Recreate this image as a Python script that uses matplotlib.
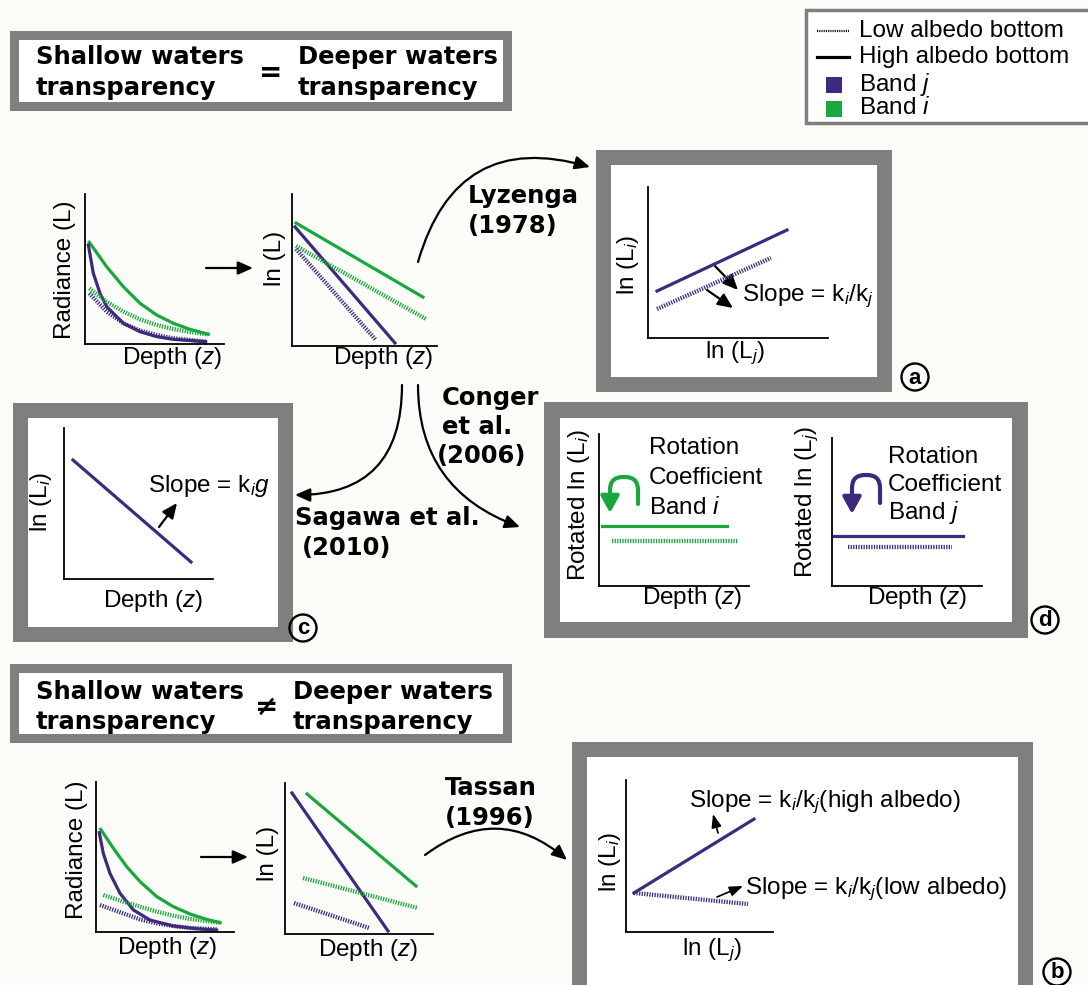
import matplotlib
matplotlib.use("Agg")
import matplotlib.pyplot as plt
from matplotlib.patches import Rectangle, FancyArrowPatch, Circle

plt.rcParams['font.family'] = ['Liberation Sans', 'DejaVu Sans']
plt.rcParams['mathtext.fontset'] = 'custom'
plt.rcParams['mathtext.rm'] = 'Liberation Sans'
plt.rcParams['mathtext.it'] = 'Liberation Sans:italic'
plt.rcParams['mathtext.bf'] = 'Liberation Sans:bold'

PURPLE = '#3d2a7f'
GREEN = '#18a83e'
GRAY = '#7f7f7f'
BG = '#fbfcf7'
W, H = 1088, 985

# ---- data (relative units) ----
# same transparency: radiance vs depth
same_rad_depth_gh = [0.031, 0.156, 0.276, 0.396, 0.516, 0.636, 0.755, 0.887]
same_rad_gh = [0.678, 0.515, 0.382, 0.271, 0.193, 0.138, 0.098, 0.065]
same_rad_depth_jh = [0.024, 0.06, 0.108, 0.156, 0.276, 0.396, 0.516, 0.636, 0.868]
same_rad_jh = [0.66, 0.471, 0.338, 0.249, 0.138, 0.082, 0.049, 0.031, 0.016]
same_rad_depth_gl = [0.031, 0.156, 0.276, 0.396, 0.516, 0.636, 0.755, 0.887]
same_rad_gl = [0.371, 0.282, 0.216, 0.164, 0.127, 0.1, 0.08, 0.064]
same_rad_depth_jl = [0.031, 0.156, 0.276, 0.396, 0.516, 0.636, 0.868]
same_rad_jl = [0.338, 0.216, 0.138, 0.089, 0.06, 0.038, 0.016]

# same transparency: ln(L) vs depth
same_ln_depth_gh, same_ln_gh = [0.028, 0.903], [0.809, 0.322]
same_ln_depth_jh, same_ln_jh = [0.021, 0.71], [0.783, 0.02]
same_ln_depth_gl, same_ln_gl = [0.028, 0.924], [0.658, 0.178]
same_ln_depth_jl, same_ln_jl = [0.028, 0.579], [0.638, 0.039]

# (a) Lyzenga
a_lnLj_high, a_lnLi_high = [0.05, 0.772], [0.311, 0.715]
a_lnLj_low, a_lnLi_low = [0.05, 0.683], [0.192, 0.53]

# (c) Sagawa
c_depth, c_lnL = [0.06, 0.852], [0.788, 0.113]

# (d) Conger
d_i_depth_high, d_i_high = [0.02, 0.853], [0.395, 0.395]
d_i_depth_low, d_i_low = [0.087, 0.927], [0.296, 0.296]
d_j_depth_high, d_j_high = [0.013, 0.873], [0.338, 0.338]
d_j_depth_low, d_j_low = [0.107, 0.8], [0.264, 0.264]

# different transparency: radiance vs depth
diff_rad_depth_gh = [0.034, 0.126, 0.222, 0.319, 0.44, 0.56, 0.681, 0.802, 0.899]
diff_rad_gh = [0.684, 0.558, 0.436, 0.336, 0.236, 0.169, 0.12, 0.084, 0.062]
diff_rad_depth_jh = [0.024, 0.053, 0.101, 0.174, 0.271, 0.391, 0.56, 0.729, 0.874]
diff_rad_jh = [0.662, 0.524, 0.391, 0.258, 0.147, 0.08, 0.04, 0.022, 0.013]
diff_rad_depth_gl = [0.053, 0.198, 0.319, 0.44, 0.56, 0.681, 0.899]
diff_rad_gl = [0.247, 0.202, 0.169, 0.136, 0.109, 0.087, 0.062]
diff_rad_depth_jl = [0.029, 0.198, 0.319, 0.44, 0.56, 0.681, 0.874]
diff_rad_jl = [0.18, 0.124, 0.084, 0.058, 0.04, 0.027, 0.018]

# different transparency: ln(L) vs depth
diff_ln_depth_jh, diff_ln_jh = [0.047, 0.696], [0.934, 0.02]
diff_ln_depth_gh, diff_ln_gh = [0.149, 0.885], [0.927, 0.318]
diff_ln_depth_gl, diff_ln_gl = [0.122, 0.899], [0.371, 0.172]
diff_ln_depth_jl, diff_ln_jl = [0.061, 0.568], [0.205, 0.04]

# (b) Tassan
b_lnLj_high, b_lnLi_high = [0.054, 0.871], [0.257, 0.743]
b_lnLj_low, b_lnLi_low = [0.054, 0.83], [0.257, 0.184]

fig = plt.figure(figsize=(W / 100, H / 100), dpi=100, facecolor=BG)
bg = fig.add_axes([0, 0, 1, 1])
bg.set_xlim(0, W)
bg.set_ylim(H, 0)
bg.axis('off')


def box(x0, y0, x1, y1, b):
    bg.add_patch(Rectangle((x0, y0), x1 - x0, y1 - y0, fc=GRAY, ec='none'))
    bg.add_patch(Rectangle((x0 + b, y0 + b), x1 - x0 - 2 * b, y1 - y0 - 2 * b, fc='white', ec='none'))


def txt(x, y, s, size=17.5, ha='left', rot=0, **kw):
    bg.text(x, y, s, fontsize=size, ha=ha, va='center', rotation=rot, **kw)


def bold(x, y, s, ha='left', size=17.5):
    bg.text(x, y, s, fontsize=size, ha=ha, va='center', family='DejaVu Sans', fontweight='bold')


def arrow(p0, p1, cs='arc3,rad=0', lw=1.6, color='k', hl=0.9, hw=0.4, ms=10):
    bg.add_patch(FancyArrowPatch(p0, p1, connectionstyle=cs, color=color, lw=lw,
                                 arrowstyle=f'-|>,head_length={hl},head_width={hw}',
                                 mutation_scale=ms, shrinkA=0, shrinkB=0))


def label(cx, cy, s):
    bg.add_patch(Circle((cx, cy), 13.5, fill=False, lw=1.7, ec='k'))
    bg.text(cx, cy + 1, s, fontsize=16, ha='center', va='center', fontweight='bold')


def mini(x0, y0, x1, y1):
    ax = fig.add_axes([x0 / W, 1 - y1 / H, (x1 - x0) / W, (y1 - y0) / H])
    ax.set_xlim(0, 1)
    ax.set_ylim(0, 1)
    ax.set_facecolor('none')
    for s in ['top', 'right']:
        ax.spines[s].set_visible(False)
    for s in ['left', 'bottom']:
        ax.spines[s].set_linewidth(1.3)
    ax.set_xticks([])
    ax.set_yticks([])
    return ax


def solid(ax, x, y, c):
    ax.plot(x, y, color=c, lw=2.3, clip_on=False)


def dotted(ax, x, y, c):
    ax.plot(x, y, color=c, lw=3.1, ls=(0, (0.3, 0.3)), clip_on=False)


# ---- boxes ----
box(10, 31, 512, 111, 9)
box(10, 664, 512, 743, 9)
box(596, 150, 892, 392, 15)
box(13, 403, 293, 642, 15)
box(544, 402, 1028, 638, 16)
box(572, 742, 1033, 1000, 15)

# title boxes
bold(36, 57, 'Shallow waters')
bold(36, 88, 'transparency')
bold(271, 73, '=', ha='center', size=20)
bold(298, 57, 'Deeper waters')
bold(298, 88, 'transparency')
bold(36, 692, 'Shallow waters')
bold(36, 722, 'transparency')
bold(267, 707, '≠', ha='center', size=20)
bold(293, 692, 'Deeper waters')
bold(293, 722, 'transparency')

# legend
bg.add_patch(Rectangle((806, 10), 300, 113, fc='white', ec=GRAY, lw=2.5))
bg.plot([817, 849], [31, 31], color='k', lw=1.6, ls=(0, (0.5, 0.5)))
bg.plot([817, 849], [57, 57], color='k', lw=2.3)
bg.add_patch(Rectangle((826, 77), 16, 16, fc=PURPLE, ec='none'))
bg.add_patch(Rectangle((826, 101), 16, 16, fc=GREEN, ec='none'))
txt(859, 31, 'Low albedo bottom')
txt(859, 57, 'High albedo bottom')
txt(859, 84, 'Band $j$')
txt(859, 108, 'Band $i$')

# ---- same transparency plots ----
ax = mini(85, 194, 224, 344)
solid(ax, same_rad_depth_gh, same_rad_gh, GREEN)
solid(ax, same_rad_depth_jh, same_rad_jh, PURPLE)
dotted(ax, same_rad_depth_gl, same_rad_gl, GREEN)
dotted(ax, same_rad_depth_jl, same_rad_jl, PURPLE)
txt(65, 270, 'Radiance (L)', ha='center', rot=90)
txt(172, 358, 'Depth ($z$)', ha='center')
arrow((206, 268), (253, 268))

ax = mini(292, 194, 437, 346)
solid(ax, same_ln_depth_gh, same_ln_gh, GREEN)
solid(ax, same_ln_depth_jh, same_ln_jh, PURPLE)
dotted(ax, same_ln_depth_gl, same_ln_gl, GREEN)
dotted(ax, same_ln_depth_jl, same_ln_jl, PURPLE)
txt(275, 258, 'ln (L)', ha='center', rot=90)
txt(383, 358, 'Depth ($z$)', ha='center')

# ---- (a) ----
ax = mini(648, 187, 828, 338)
solid(ax, a_lnLj_high, a_lnLi_high, PURPLE)
dotted(ax, a_lnLj_low, a_lnLi_low, PURPLE)
txt(628, 265, 'ln (L$_i$)', ha='center', rot=90)
txt(735, 353, 'ln (L$_j$)', ha='center')
txt(742, 296, 'Slope = k$_i$/k$_j$')
arrow((715, 266), (738, 290))
arrow((707, 290), (733, 308))
arrow((418, 262), (590, 167), cs='arc3,rad=-0.5')
bold(468, 196, 'Lyzenga')
bold(468, 226, '(1978)')
label(915, 377, 'a')

# ---- (c) ----
ax = mini(64, 428, 213, 579)
solid(ax, c_depth, c_lnL, PURPLE)
txt(41, 502, 'ln (L$_i$)', ha='center', rot=90)
txt(153, 601, 'Depth ($z$)', ha='center')
txt(148, 486, 'Slope = k$_i$$g$')
arrow((159, 527), (177, 503))
arrow((402, 385), (295, 495), cs='angle3,angleA=90,angleB=0')
bold(295, 518, 'Sagawa et al.')
bold(302, 548, '(2010)')
label(303, 628, 'c')

# ---- (d) ----
arrow((418, 385), (520, 527), cs='angle3,angleA=90,angleB=-20')
bold(442, 398, 'Conger')
bold(442, 427, 'et al.')
bold(437, 456, '(2006)')

ax = mini(599, 434, 749, 586)
solid(ax, d_i_depth_high, d_i_high, GREEN)
dotted(ax, d_i_depth_low, d_i_low, GREEN)
txt(579, 505, 'Rotated ln (L$_i$)', ha='center', rot=90)
txt(692, 598, 'Depth ($z$)', ha='center')
txt(649, 448, 'Rotation')
txt(649, 478, 'Coefficient')
txt(649, 508, 'Band $i$')
arrow((638, 504), (610, 513), cs='arc,angleA=90,armA=27,angleB=90,armB=36,rad=13',
      lw=3, color=GREEN, hl=1.0, hw=0.55)

ax = mini(832, 438, 982, 586)
solid(ax, d_j_depth_high, d_j_high, PURPLE)
dotted(ax, d_j_depth_low, d_j_low, PURPLE)
txt(807, 502, 'Rotated ln (L$_j$)', ha='center', rot=90)
txt(917, 598, 'Depth ($z$)', ha='center')
txt(888, 457, 'Rotation')
txt(888, 485, 'Coefficient')
txt(888, 513, 'Band $j$')
arrow((880, 503), (852, 514), cs='arc,angleA=90,armA=28,angleB=90,armB=39,rad=13',
      lw=3, color=PURPLE, hl=1.0, hw=0.55)
label(1045, 620, 'd')

# ---- different transparency plots ----
ax = mini(96, 782, 234, 932)
solid(ax, diff_rad_depth_gh, diff_rad_gh, GREEN)
solid(ax, diff_rad_depth_jh, diff_rad_jh, PURPLE)
dotted(ax, diff_rad_depth_gl, diff_rad_gl, GREEN)
dotted(ax, diff_rad_depth_jl, diff_rad_jl, PURPLE)
txt(77, 850, 'Radiance (L)', ha='center', rot=90)
txt(167, 948, 'Depth ($z$)', ha='center')
arrow((201, 857), (248, 857))

ax = mini(285, 783, 433, 934)
solid(ax, diff_ln_depth_gh, diff_ln_gh, GREEN)
solid(ax, diff_ln_depth_jh, diff_ln_jh, PURPLE)
dotted(ax, diff_ln_depth_gl, diff_ln_gl, GREEN)
dotted(ax, diff_ln_depth_jl, diff_ln_jl, PURPLE)
txt(268, 853, 'ln (L)', ha='center', rot=90)
txt(368, 950, 'Depth ($z$)', ha='center')

# ---- (b) ----
ax = mini(626, 780, 773, 932)
solid(ax, b_lnLj_high, b_lnLi_high, PURPLE)
dotted(ax, b_lnLj_low, b_lnLi_low, PURPLE)
txt(610, 862, 'ln (L$_i$)', ha='center', rot=90)
txt(712, 950, 'ln (L$_j$)', ha='center')
txt(689, 802, 'Slope = k$_i$/k$_j$(high albedo)')
txt(745, 889, 'Slope = k$_i$/k$_j$(low albedo)')
arrow((718, 833), (713, 814), lw=1.2, hl=0.8, hw=0.3)
arrow((717, 897), (743, 886), lw=1.2, hl=0.8, hw=0.3)
arrow((425, 855), (567, 860), cs='arc3,rad=-0.4')
bold(445, 788, 'Tassan')
bold(445, 818, '(1996)')
label(1057, 972, 'b')

fig.savefig('out.png', dpi=100, facecolor=BG)
